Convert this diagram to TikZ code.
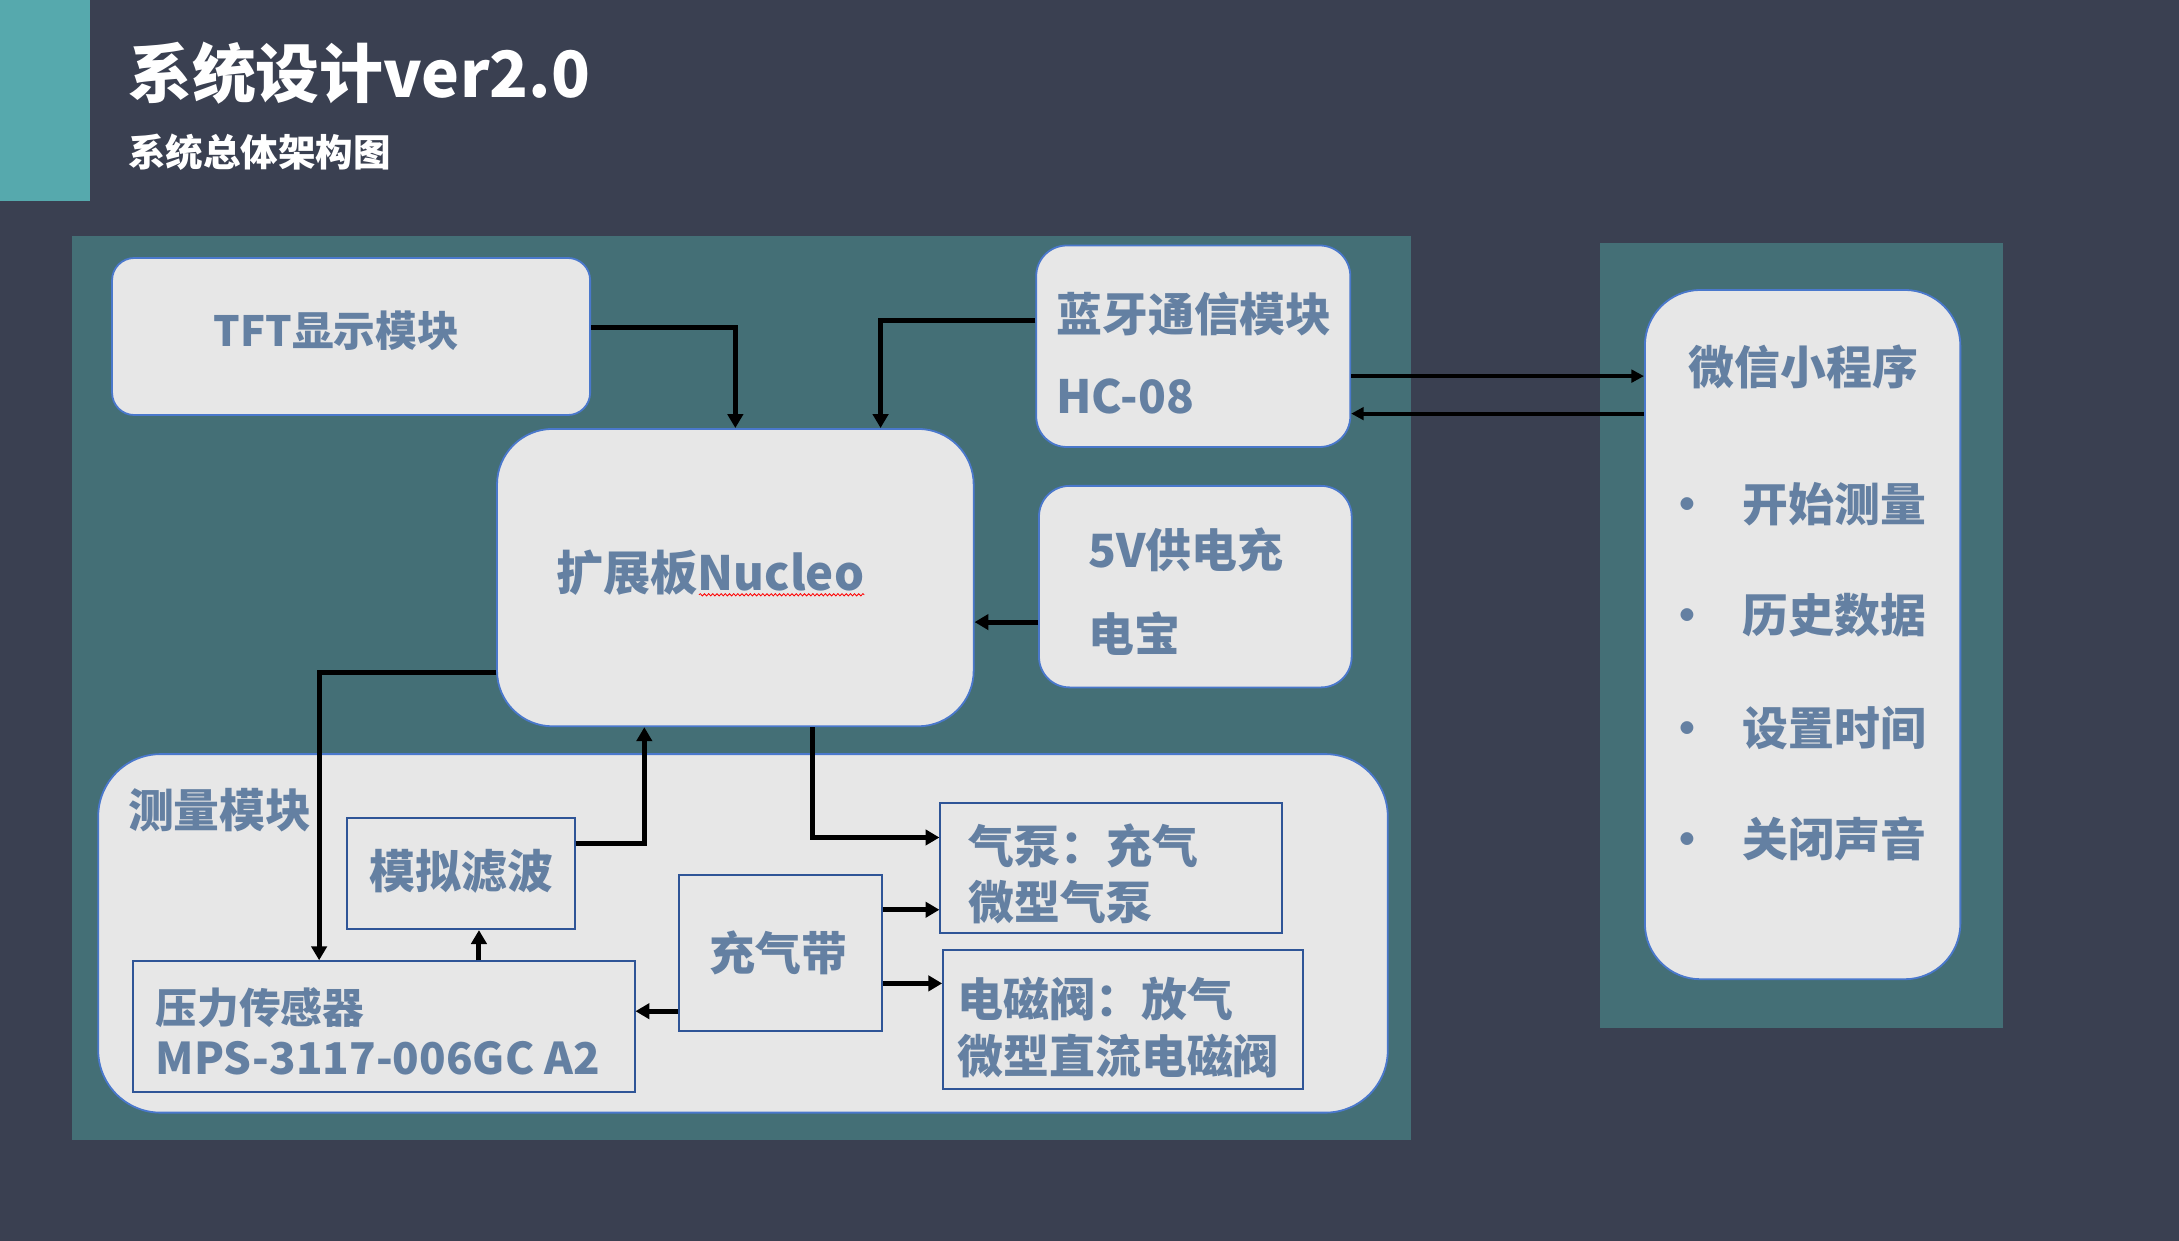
\documentclass[tikz,border=0pt]{standalone}
\usepackage{fontspec}
\setmainfont{Noto Sans CJK SC}
\usetikzlibrary{arrows.meta,calc,decorations.pathmorphing}
\definecolor{bg}{HTML}{3A4051}
\definecolor{accent}{HTML}{56A9AD}
\definecolor{panel}{HTML}{446F76}
\definecolor{boxfill}{HTML}{E7E7E7}
\definecolor{rborder}{HTML}{4A78CC}
\definecolor{sborder}{HTML}{2F5597}
\definecolor{txt}{HTML}{6480A2}
\tikzset{
  rbox/.style={draw=rborder, line width=1.3pt, fill=boxfill, rounded corners=#1, inner sep=0pt, anchor=north west},
  rbox/.default=16pt,
  sbox/.style={draw=sborder, line width=1.3pt, fill=boxfill, inner sep=0pt, anchor=north west},
  lbl/.style={text=txt, font=\fontsize{33}{40}\selectfont\bfseries, inner sep=0pt, anchor=base west},
  conn/.style={draw=black, line width=3.6pt, -{Triangle[length=10pt,width=11pt]}},
  thinconn/.style={draw=black, line width=2.7pt, -{Triangle[length=9pt,width=9pt]}}
}
\begin{document}
\begin{tikzpicture}[x=1pt,y=-1pt]
\useasboundingbox (0,0) rectangle (1568,893);
\fill[bg] (0,0) rectangle (1568,893);
\fill[accent] (0,0) rectangle (65,145);
\fill[panel] (52,170) rectangle (1015,820);
\fill[panel] (1151,175) rectangle (1441,740);

\node[anchor=base west, text=white, inner sep=0pt, font=\fontsize{46}{50}\selectfont\bfseries] (title) at (92,70) {系统设计ver2.0};
\node[anchor=base west, text=white, inner sep=0pt, font=\fontsize{27}{30}\selectfont\bfseries] (subtitle) at (92,120) {系统总体架构图};

% boxes
\node[rbox=16pt, minimum width=344pt, minimum height=113pt] (tft) at (80,185) {};
\node[rbox=40pt, minimum width=343pt, minimum height=214pt] (nuc) at (357,308) {};
\node[rbox=22pt, minimum width=226pt, minimum height=145pt] (bt) at (745,176) {};
\node[rbox=22pt, minimum width=225pt, minimum height=145pt] (pwr) at (747,349) {};
\node[rbox=45pt, minimum width=928pt, minimum height=258pt] (meas) at (70,542) {};
\node[sbox, minimum width=164pt, minimum height=80pt] (filt) at (249,588) {};
\node[sbox, minimum width=361pt, minimum height=94pt] (sens) at (95,691) {};
\node[sbox, minimum width=146pt, minimum height=112pt] (cuff) at (488,629) {};
\node[sbox, minimum width=246pt, minimum height=94pt] (pump) at (676,577) {};
\node[sbox, minimum width=259pt, minimum height=100pt] (valve) at (678,683) {};
\node[rbox=40pt, minimum width=227pt, minimum height=496pt] (wx) at (1183,208) {};

% labels
\node[lbl, anchor=base, font=\fontsize{30}{36}\selectfont\bfseries] (tfttxt) at (242,249) {TFT显示模块};
\node[lbl, font=\fontsize{34}{40}\selectfont\bfseries] (nuctxt) at (400,425) {扩展板Nucleo};
\draw[red, line width=0.6pt, decorate, decoration={snake, amplitude=0.8pt, segment length=3pt}] (503,428) -- (622,428);
\node[lbl] (bttxt1) at (760,238.5) {蓝牙通信模块};
\node[lbl] (bttxt2) at (760,297.5) {HC-08};
\node[lbl] (pwrtxt1) at (783,408.5) {5V供电充};
\node[lbl] (pwrtxt2) at (783,468.5) {电宝};
\node[lbl] (meastxt) at (92,595.5) {测量模块};
\node[lbl, anchor=base] (filttxt) at (332,639.5) {模拟滤波};
\node[lbl, font=\fontsize{30}{36}\selectfont\bfseries] (senstxt1) at (112,736.5) {压力传感器};
\node[lbl, font=\fontsize{31.5}{36}\selectfont\bfseries] (senstxt2) at (112,773) {MPS-3117-006GC A2};
\node[lbl, anchor=base] (cufftxt) at (560,698.5) {充气带};
\node[lbl] (pumptxt1) at (697,621.5) {气泵：充气};
\node[lbl] (pumptxt2) at (697,661.5) {微型气泵};
\node[lbl] (valvetxt1) at (689,731.5) {电磁阀：放气};
\node[lbl] (valvetxt2) at (689,772.5) {微型直流电磁阀};
\node[lbl] (wxtxt) at (1215,276.5) {微信小程序};
\foreach \yy/\tt [count=\i] in {363/开始测量, 443/历史数据, 524/设置时间, 604/关闭声音}{
  \node[lbl, anchor=base] (bul\i) at (1214,\yy+12.5) {•};
  \node[lbl] (item\i) at (1254,\yy+12.5) {\tt};
}

% connectors
\draw[conn] ([yshift=6.5pt]tft.east) -| (nuc.north);
\draw[conn] ([yshift=18.5pt]bt.west) -| ([xshift=104.5pt]nuc.north);
\coordinate (b1) at ($(bt.east)+(0,21.5)$);
\draw[thinconn] (b1) -- (b1 -| wx.west);
\coordinate (b2) at ($(wx.west)+(0,-159)$);
\draw[thinconn] (b2) -- (b2 -| bt.east);
\coordinate (p5) at ($(pwr.west)+(0,25.5)$);
\draw[conn] (p5) -- (p5 -| nuc.east);
\coordinate (n1) at ($(nuc.west)+(0,68)$);
\draw[conn] (n1) -| ($(sens.north)+(-46.5,0)$);
\draw[conn] ($(filt.east)+(0,-22)$) -| ($(nuc.south)+(-65.5,0)$);
\coordinate (pm) at ($(pump.west)+(0,-22)$);
\draw[conn] ($(nuc.south)+(55.5,0)$) |- (pm);
\coordinate (s1) at ($(sens.north)+(68.5,0)$);
\draw[conn] (s1) -- (s1 |- filt.south);
\coordinate (c1) at ($(cuff.east)+(0,-31)$);
\draw[conn] (c1) -- (c1 -| pump.west);
\coordinate (c2) at ($(cuff.east)+(0,22)$);
\draw[conn] (c2) -- (c2 -| valve.west);
\coordinate (c3) at ($(cuff.west)+(0,42)$);
\draw[conn] (c3) -- (c3 -| sens.east);
\end{tikzpicture}
\end{document}
